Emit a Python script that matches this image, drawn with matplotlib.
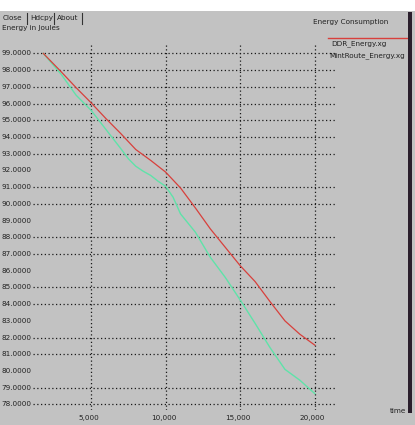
import numpy as np
import matplotlib
matplotlib.use('Agg')
import matplotlib.pyplot as plt
from matplotlib.patches import Rectangle
from matplotlib.transforms import blended_transform_factory

# data
time_ddr = [1800, 3000, 4000, 5000, 6000, 7000, 8000, 9000, 10000, 11000,
            12000, 13000, 14000, 15000, 16000, 17000, 18000, 19000, 20000]
energy_ddr = [99.0, 97.9, 96.95, 96.05, 95.1, 94.2, 93.25, 92.6, 91.9, 90.95,
              89.75, 88.5, 87.4, 86.3, 85.35, 84.15, 83.0, 82.2, 81.55]

time_mint = [1800, 3000, 4000, 5000, 6000, 7000, 7500, 8000, 8500, 9000, 9500,
             10000, 10500, 11000, 12000, 13000, 14000, 15000, 16000, 17000,
             18000, 19000, 20000]
energy_mint = [99.0, 97.75, 96.5, 95.6, 94.45, 93.3, 92.7, 92.25, 91.95, 91.7,
               91.35, 91.05, 90.4, 89.4, 88.3, 86.8, 85.6, 84.25, 82.85, 81.4,
               80.1, 79.45, 78.65]

y_ticks = list(range(78, 100))
y_no_grid = [92, 89, 86, 83, 80]
x_ticks = [5000, 10000, 15000, 20000]
x_labels = ['5,000', '10,000', '15,000', '20,000']

W, H = 415, 425
GRAY = '#c2c2c2'
FS = 5.2

fig = plt.figure(figsize=(W / 100, H / 100), dpi=100)
fig.patch.set_facecolor(GRAY)


def fx(px):
    return px / W


def fy(py):
    return 1 - py / H


# plot area in pixels: x 33..335, y 45..410
ax = fig.add_axes([fx(33), fy(410), (335 - 33) / W, (410 - 45) / H])
ax.set_facecolor(GRAY)
for s in ax.spines.values():
    s.set_visible(False)
ax.set_xticks([])
ax.set_yticks([])
ax.set_xlim(1113, 21354)
ax.set_ylim(77.67, 99.5)

grid_kw = dict(color='#1a1a1a', linewidth=0.9, linestyle=(0, (1, 2)), zorder=1)
for v in y_ticks:
    if v not in y_no_grid:
        ax.axhline(v, **grid_kw)
for v in x_ticks:
    ax.axvline(v, **grid_kw)

ax.plot(time_ddr, energy_ddr, color='#d8403c', linewidth=0.9, zorder=3)
ax.plot(time_mint, energy_mint, color='#5fe3a9', linewidth=1.0, zorder=2)

ty = blended_transform_factory(ax.transAxes, ax.transData)
for v in y_ticks:
    ax.text(-0.006, v, '%.4f' % v, transform=ty, ha='right', va='center',
            fontsize=FS, color='#222222', clip_on=False)

tx = blended_transform_factory(ax.transData, ax.transAxes)
for v, lab in zip(x_ticks, x_labels):
    ax.text(v - 150, -0.022, lab, transform=tx, ha='center', va='center',
            fontsize=FS, color='#222222', clip_on=False)

# window chrome
fig.patches.append(Rectangle((0, fy(11)), 1, 11 / H, transform=fig.transFigure,
                             facecolor='white', edgecolor='none', zorder=5))
fig.patches.append(Rectangle((fx(408), fy(413)), 4 / W, 401 / H, transform=fig.transFigure,
                             facecolor='#2a1e2c', edgecolor='none', zorder=5))

for px, lab in [(3, 'Close'), (30, 'Hdcpy'), (57, 'About')]:
    fig.text(fx(px), fy(18), lab, fontsize=FS, color='#222222', va='center')
for px in [27, 54, 82]:
    fig.lines.append(plt.Line2D([fx(px), fx(px)], [fy(13), fy(24)],
                                transform=fig.transFigure, color='#333333', linewidth=0.8))
fig.text(fx(2), fy(28), 'Energy in Joules', fontsize=FS, color='#222222', va='center')

fig.text(fx(313), fy(22), 'Energy Consumption', fontsize=FS, color='#222222', va='center')
fig.lines.append(plt.Line2D([fx(328), fx(407)], [fy(38), fy(38)],
                            transform=fig.transFigure, color='#d8403c', linewidth=1.0))
fig.text(fx(331), fy(44), 'DDR_Energy.xg', fontsize=FS, color='#222222', va='center')
fig.text(fx(329), fy(56), 'MintRoute_Energy.xg', fontsize=FS, color='#222222', va='center')
fig.text(fx(406), fy(411), 'time', fontsize=FS, color='#222222', va='center', ha='right')

fig.savefig('out.png', dpi=100, facecolor=fig.get_facecolor())
